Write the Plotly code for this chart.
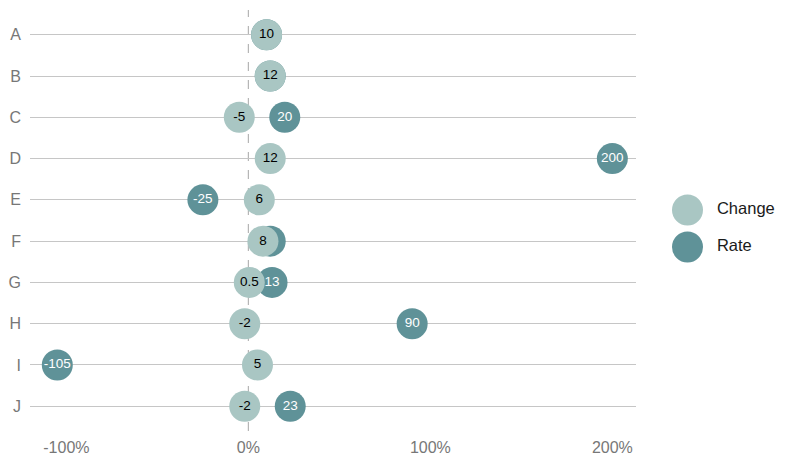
import plotly.graph_objects as go

categories = ["A", "B", "C", "D", "E", "F", "G", "H", "I", "J"]
change = [10, 12, -5, 12, 6, 8, 0.5, -2, 5, -2]
rate = [10, 12, 20, 200, -25, 12, 13, 90, -105, 23]
x_ticks = [-100, 0, 100, 200]
x_tick_labels = ["-100%", "0%", "100%", "200%"]
series_names = ["Change", "Rate"]

c_change = "#a9c6c3"
c_rate = "#5f9298"
font_fam = "Liberation Sans, Arial, sans-serif"

def fmt(v):
    return f"{v:g}"

fig = go.Figure()
fig.add_trace(go.Scatter(
    x=rate, y=categories, mode="markers+text", name=series_names[1],
    marker=dict(size=31, color=c_rate, line=dict(width=0)),
    text=[fmt(v) for v in rate], textposition="middle center",
    textfont=dict(color="white", size=13.5, family=font_fam),
    showlegend=False, cliponaxis=False))
fig.add_trace(go.Scatter(
    x=change, y=categories, mode="markers+text", name=series_names[0],
    marker=dict(size=31, color=c_change, line=dict(width=0)),
    text=[fmt(v) for v in change], textposition="middle center",
    textfont=dict(color="black", size=13.5, family=font_fam),
    showlegend=False, cliponaxis=False))

# custom legend with large symbols
fig.add_trace(go.Scatter(
    x=[0, 0], y=series_names, mode="markers", xaxis="x2", yaxis="y2",
    marker=dict(size=31, color=[c_change, c_rate]), showlegend=False,
    hoverinfo="skip", cliponaxis=False))
fig.add_trace(go.Scatter(
    x=[0.95, 0.95], y=series_names, mode="text", xaxis="x2", yaxis="y2",
    text=series_names, textposition="middle right",
    textfont=dict(size=16.5, color="#1a1a1a", family=font_fam),
    showlegend=False, hoverinfo="skip", cliponaxis=False))

fig.add_shape(type="line", x0=0, x1=0, y0=0, y1=1, xref="x", yref="paper",
              line=dict(color="#b5b5b5", width=1.2, dash="dash"), layer="below")

W_PLOT = 766.0
fig.update_layout(
    width=801, height=467,
    margin=dict(l=30, r=5, t=10, b=36),
    plot_bgcolor="white", paper_bgcolor="white",
    font=dict(family=font_fam),
    xaxis=dict(domain=[0, 606 / W_PLOT], range=[-120, 213], tickvals=x_ticks,
               ticktext=x_tick_labels,
               showgrid=False, zeroline=False, showline=False, ticks="",
               tickfont=dict(size=16, color="#777777"), ticklabelstandoff=5),
    yaxis=dict(categoryorder="array", categoryarray=categories,
               range=[9.6, -0.6], showgrid=True, gridcolor="#c6c6c6", gridwidth=1.3,
               zeroline=False, showline=False, ticks="",
               tickfont=dict(size=16, color="#777777"), ticklabelstandoff=8),
    xaxis2=dict(domain=[642 / W_PLOT, 1.0], range=[-0.5, 3.5], visible=False,
                fixedrange=True),
    yaxis2=dict(domain=[0.393, 0.569], range=[1.5, -0.5], visible=False,
                categoryorder="array", categoryarray=series_names, fixedrange=True),
)

fig.write_html("out.html", post_script="document.body.style.margin='0';",
               config={"displayModeBar": False})
